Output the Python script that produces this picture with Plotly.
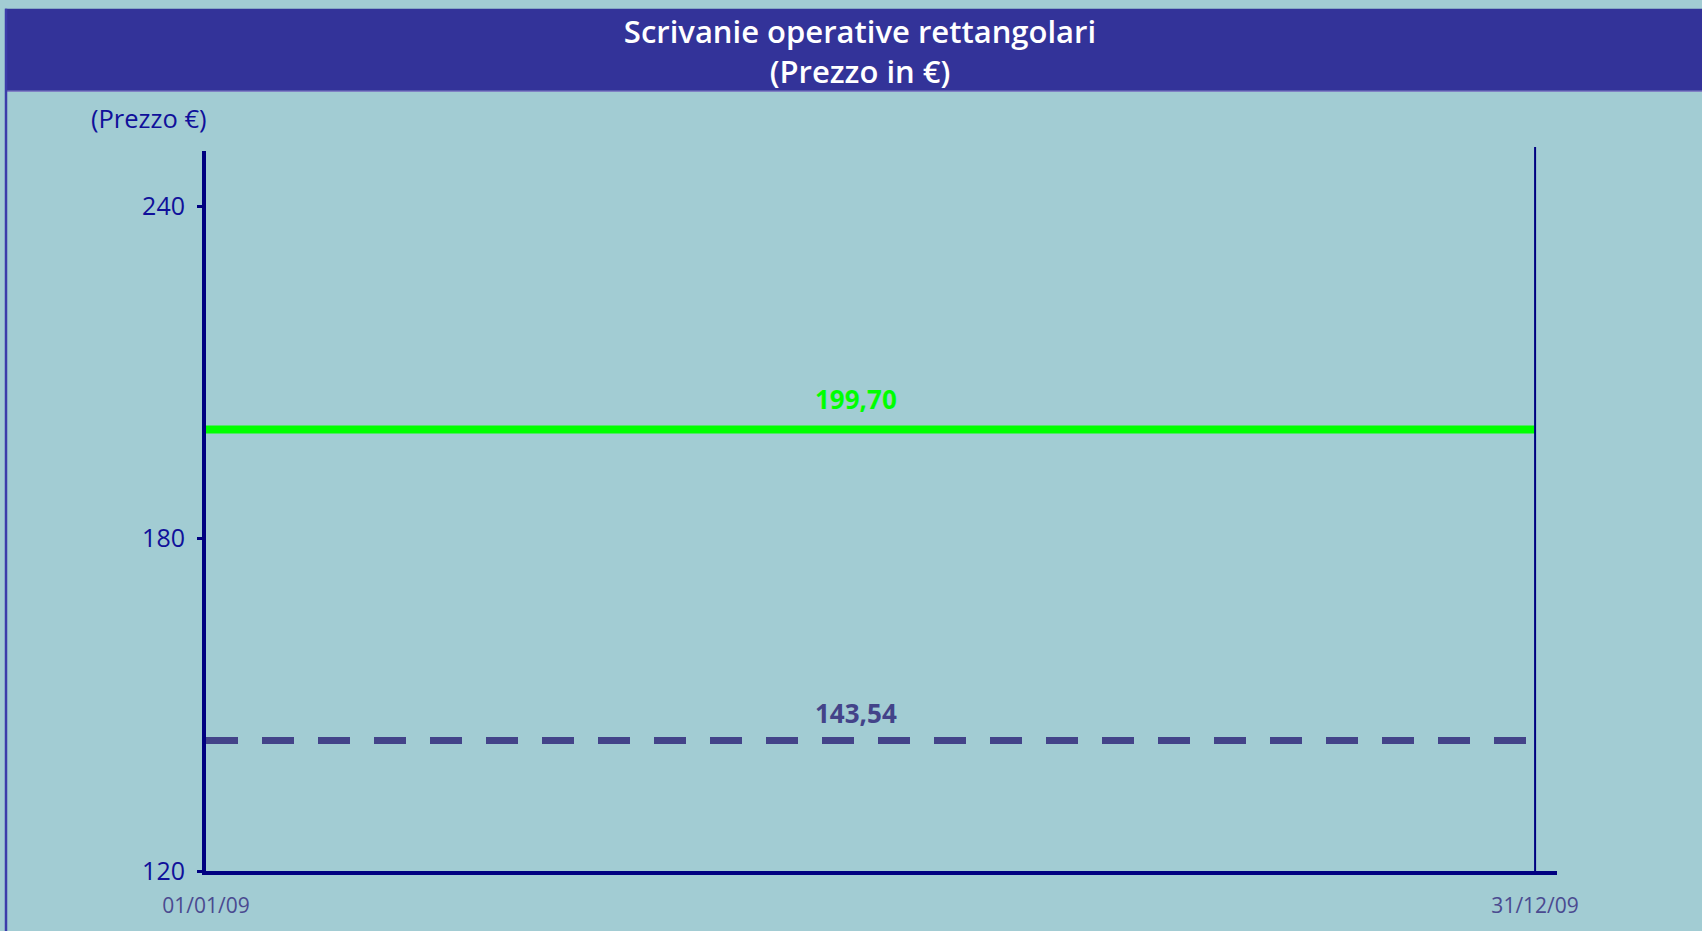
import plotly.graph_objects as go

# ---- data ----
dates = ["2009-01-01", "2009-12-31"]
date_labels = ["01/01/09", "31/12/09"]
price_max = [199.70, 199.70]
price_min = [143.54, 143.54]
label_max = "199,70"
label_min = "143,54"
y_ticks = [120, 180, 240]
title_text = "Scrivanie operative rettangolari<br>(Prezzo in €)"
y_title = "(Prezzo €)"

# ---- layout geometry ----
W, H = 1702, 931
ML, MR, MT, MB = 206, 145, 151, 56
PW, PH = W - ML - MR, H - MT - MB


def px_x(p):
    return (p - ML) / PW


def px_y(p):
    return (H - MB - p) / PH


BG = "#A2CCD3"
NAVY = "#000080"
BAR = "#333399"
GREEN = "#00FF00"
DASHC = "#434389"
LABC = "#4A4A90"
TICKC = "#10109A"
FONT = "Open Sans"

fig = go.Figure()
fig.add_trace(go.Scatter(x=dates, y=price_max, mode="lines",
                         line=dict(color=GREEN, width=8), showlegend=False,
                         hoverinfo="skip"))
fig.add_trace(go.Scatter(x=dates, y=price_min, mode="lines",
                         line=dict(color=DASHC, width=7, dash="32px,24px"),
                         showlegend=False, hoverinfo="skip"))

shapes = [
    # title bar
    dict(type="rect", xref="paper", yref="paper",
         x0=px_x(5), x1=px_x(W + 5), y0=px_y(91), y1=px_y(8),
         fillcolor=BAR, line=dict(width=0), layer="below"),
    dict(type="line", xref="paper", yref="paper",
         x0=px_x(5), x1=px_x(W + 5), y0=px_y(91), y1=px_y(91),
         line=dict(color="#8080C4", width=1.5)),
    # left border
    dict(type="line", xref="paper", yref="paper",
         x0=px_x(6), x1=px_x(6), y0=px_y(8), y1=px_y(H + 5),
         line=dict(color="#3C3CAA", width=2.5)),
    # end-of-period vertical line
    dict(type="line", xref="x", yref="paper",
         x0=dates[1], x1=dates[1], y0=0, y1=px_y(147),
         line=dict(color=NAVY, width=2)),
]

annotations = [
    dict(x="2009-06-28", y=price_max[0], xref="x", yref="y", text=label_max,
         showarrow=False, yshift=31, font=dict(family=FONT, size=26, color=GREEN, weight="bold")),
    dict(x="2009-06-28", y=price_min[0], xref="x", yref="y", text=label_min,
         showarrow=False, yshift=28, font=dict(family=FONT, size=26, color=DASHC, weight="bold")),
    dict(x=px_x(149), y=px_y(118), xref="paper", yref="paper", text=y_title,
         showarrow=False, xanchor="center", yanchor="middle",
         font=dict(family=FONT, size=25.5, color=TICKC)),
]

fig.update_layout(
    width=W, height=H,
    margin=dict(l=ML, r=MR, t=MT, b=MB),
    paper_bgcolor=BG, plot_bgcolor=BG,
    title=dict(text=title_text, x=860 / W, xanchor="center",
               y=1 - 43 / H, yanchor="middle", yref="container", xref="container",
               font=dict(family=FONT, size=31, color="white", weight=600)),
    shapes=shapes,
    annotations=annotations,
    xaxis=dict(type="date", range=["2009-01-01", "2010-01-06"],
               tickvals=dates, ticktext=date_labels, showgrid=False, zeroline=False,
               showline=True, linecolor=NAVY, linewidth=4, ticks="",
               ticklabelstandoff=13,
               tickfont=dict(family=FONT, size=21, color=LABC)),
    yaxis=dict(range=[120, 250], tickvals=y_ticks, showgrid=False, zeroline=False,
               showline=True, linecolor=NAVY, linewidth=4, ticks="outside",
               ticklen=5, tickwidth=3, tickcolor=NAVY, ticklabelstandoff=7,
               tickfont=dict(family=FONT, size=25, color=TICKC)),
    font=dict(family=FONT),
)

fig.write_html("out.html", config={"displayModeBar": False},
               post_script="document.body.style.margin='0';")
